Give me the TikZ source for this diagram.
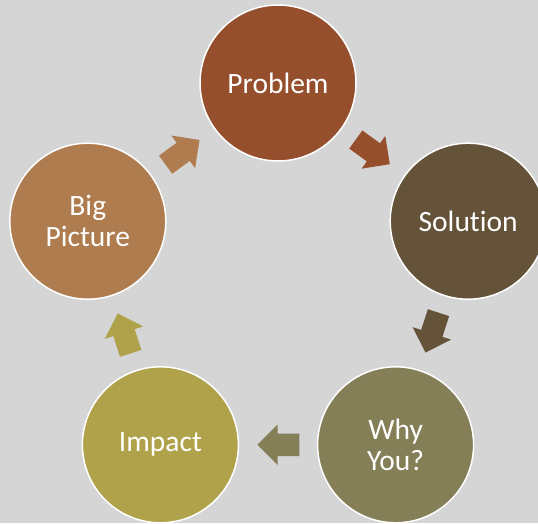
\documentclass[tikz,border=0pt]{standalone}
\usepackage{fontspec}
\setmainfont{Carlito}[Ligatures=NoCommon]
\usepackage{tikz}
\usetikzlibrary{shapes.arrows,calc}

\definecolor{problemc}{HTML}{954F2D}
\definecolor{solutionc}{HTML}{645339}
\definecolor{whyc}{HTML}{857F57}
\definecolor{impactc}{HTML}{B0A14B}
\definecolor{bigc}{HTML}{AE7C4E}
\definecolor{linen}{HTML}{D5D5D5}

\begin{document}
\begin{tikzpicture}[
    x=1pt, y=1pt,
    font=\fontsize{29.5}{31}\selectfont,
    stage/.style={
        circle,
        draw=white,
        line width=1.5pt,
        minimum size=156pt,
        inner sep=0pt,
        align=center,
        text=white
    },
    blockarrow/.style={
        single arrow,
        minimum height=42pt,
        inner xsep=0pt,
        inner ysep=11pt,
        single arrow head extend=9pt,
        draw=none
    }
]

\clip (0,0) rectangle (538,523);
\fill[linen] (0,0) rectangle (538,523);

\node[stage, fill=problemc]  (problem)  at (278,440)   {Problem};
\node[stage, fill=solutionc] (solution) at (468.2,301.8) {Solution};
\node[stage, fill=whyc]      (whyyou)   at (395.6,78.2)  {Why\\You?};
\node[stage, fill=impactc]   (impact)   at (160.4,78.2)  {Impact};
\node[stage, fill=bigc]      (bigpic)   at (87.8,301.8)  {Big\\Picture};

% arrows between the stages
\node[blockarrow, fill=problemc,  rotate=-36,  xshift=-6pt] (arrps) at ($(problem)!0.5!(solution)$) {};
\node[blockarrow, fill=solutionc, rotate=-108, xshift=-6pt] (arrsw) at ($(solution)!0.5!(whyyou)$) {};
\node[blockarrow, fill=whyc,      rotate=180,  xshift=-6pt] (arrwi) at ($(whyyou)!0.5!(impact)$) {};
\node[blockarrow, fill=impactc,   rotate=108,  xshift=-6pt] (arrib) at ($(impact)!0.5!(bigpic)$) {};
\node[blockarrow, fill=bigc,      rotate=36,   xshift=-6pt] (arrbp) at ($(bigpic)!0.5!(problem)$) {};

\end{tikzpicture}
\end{document}
